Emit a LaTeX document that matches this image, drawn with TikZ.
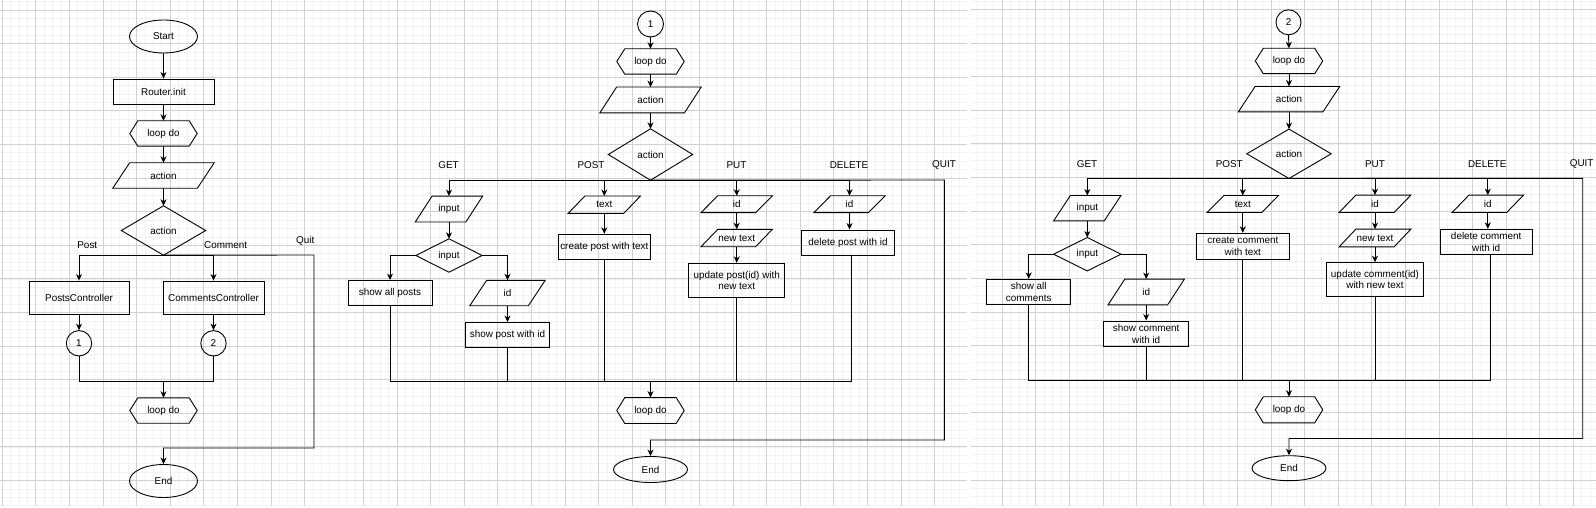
\documentclass[tikz,border=0pt]{standalone}
\usepackage{fontspec}
\setmainfont{Liberation Sans}
\usetikzlibrary{arrows.meta,shapes.geometric}
\newcommand\fsz{\fontsize{9.9pt}{11.6pt}\selectfont}
\newcommand\hexout[1]{\draw[outl] ([xshift=8pt]#1.north west) -- ([xshift=-8pt]#1.north east) -- (#1.east) -- ([xshift=-8pt]#1.south east) -- ([xshift=8pt]#1.south west) -- (#1.west) -- cycle;}
\newcommand\paraout[1]{\draw[outl] ([xshift=16.8pt]#1.north west) -- (#1.north east) -- ([xshift=-16.8pt]#1.south east) -- (#1.south west) -- cycle;}
\newcommand\diaout[1]{\draw[outl] (#1.north) -- (#1.east) -- (#1.south) -- (#1.west) -- cycle;}
\newcommand\gridpanel[4]{%
  \begin{scope}
    \clip (#1,0) rectangle (#2,505);
    \foreach \gi in {-4,...,80} {\draw[gmin] ({#3+8.4*\gi},0) -- ({#3+8.4*\gi},508);}
    \foreach \gi in {-2,...,61} {\draw[gmin] (#1,{#4+8.4*\gi}) -- (#2,{#4+8.4*\gi});}
    \foreach \gi in {-1,...,20} {\draw[gmaj] ({#3+33.6*\gi},0) -- ({#3+33.6*\gi},508);}
    \foreach \gi in {-1,...,15} {\draw[gmaj] (#1,{#4+33.6*\gi}) -- (#2,{#4+33.6*\gi});}
  \end{scope}}
\tikzset{
  base/.style={inner sep=0pt, font=\fsz, align=center, text=black},
  sz/.style 2 args={minimum width=#1pt, minimum height=#2pt},
  rbox/.style={base, draw, line width=0.9pt, rectangle},
  shp/.style={base, rectangle},
  oval/.style={base, draw, line width=0.9pt, ellipse},
  ring/.style={base, draw, line width=0.9pt, circle, minimum size=25.4pt},
  outl/.style={draw, line width=0.9pt},
  lbl/.style={base},
  wire/.style={draw, line width=0.9pt},
  arr/.style={wire, -{Stealth[length=6.5pt, width=6pt, inset=2pt]}},
  gmin/.style={draw=black!5, line width=0.6pt},
  gmaj/.style={draw=black!18, line width=0.8pt},
}
\begin{document}
\begin{tikzpicture}[x=1pt,y=-1pt]
\useasboundingbox (0,0) rectangle (1596,508);
\fill[white] (0,0) rectangle (1596,508);
\gridpanel{0}{335}{2.1}{10}
\gridpanel{335}{967}{329.7}{10}
\gridpanel{971}{1596}{968.5}{9.5}

% ---------------- Panel 1 ----------------
\node[oval, sz={68}{33}] (start) at (163.5,36.5) {Start};
\node[rbox, sz={101}{25}] (router) at (163.5,91.5) {Router.init};
\node[shp, sz={67}{25}] (loop1) at (163.5,133.5) {loop do}; \hexout{loop1}
\node[shp, sz={101}{25}] (act1) at (163.5,175.5) {action}; \paraout{act1}
\node[shp, sz={84}{49}] (dec1) at (163.5,230.5) {action}; \diaout{dec1}
\node[rbox, sz={100}{33}] (posts) at (79,297.5) {PostsController};
\node[rbox, sz={101}{33}] (comments) at (213.5,297.5) {CommentsController};
\node[ring] (c1) at (79,343.3) {1};
\node[ring] (c2) at (213.5,343.3) {2};
\node[shp, sz={67}{25}] (loop2) at (163.5,410.5) {loop do}; \hexout{loop2}
\node[oval, sz={68}{33}] (end1) at (163.5,481) {End};
\node[lbl] (lpost) at (87.3,245) {Post};
\node[lbl] (lcomment) at (225.7,245) {Comment};
\node[lbl] (lquit) at (305.3,240.7) {Quit};
\coordinate (q1a) at (314,255);
\coordinate (q1b) at (314,448);
\coordinate (j1) at (163.5,381);

\draw[arr] (start.south) -- (router.north);
\draw[arr] (router.south) -- (loop1.north);
\draw[arr] (loop1.south) -- (act1.north);
\draw[arr] (act1.south) -- (dec1.north);
\draw[arr] (dec1.south) -| (posts.north);
\draw[arr] (dec1.south) -| (comments.north);
\draw[arr] (dec1.south) -- (q1a) -- (q1b) -| (end1.north);
\draw[arr] (posts.south) -- (c1.north);
\draw[arr] (comments.south) -- (c2.north);
\draw[wire] (c1.south) |- (j1);
\draw[wire] (c2.south) |- (j1);
\draw[arr] (j1) -- (loop2.north);

% ---------------- Panel 2 ----------------
\node[ring, minimum size=26pt] (p2c1) at (650.5,24) {1};
\node[shp, sz={67}{25}] (p2loop) at (650.5,61.5) {loop do}; \hexout{p2loop}
\node[shp, sz={101}{25.5}] (p2act) at (650.5,100) {action}; \paraout{p2act}
\node[shp, sz={84}{51}] (p2dec) at (650.5,154.5) {action}; \diaout{p2dec}
\node[lbl] (p2lget) at (448.5,165) {GET};
\node[lbl] (p2lpost) at (591,165) {POST};
\node[lbl] (p2lput) at (736.5,165) {PUT};
\node[lbl] (p2ldel) at (849,165) {DELETE};
\node[lbl] (p2lquit) at (944,165) {QUIT};
\node[shp, sz={67}{25.5}] (p2in) at (449,209) {input}; \paraout{p2in}
\node[shp, sz={66}{33}] (p2indec) at (449,255.5) {input}; \diaout{p2indec}
\node[rbox, sz={84}{25}] (p2all) at (390,293) {show all posts};
\node[shp, sz={75}{25}] (p2id) at (507.5,293) {id}; \paraout{p2id}
\node[rbox, sz={84}{25}] (p2show) at (507.5,335) {show post with id};
\node[shp, sz={72}{17}] (p2text) at (604.3,204.7) {text}; \paraout{p2text}
\node[rbox, sz={92}{25}] (p2create) at (604.3,246.7) {create post with text};
\node[shp, sz={71}{16.5}] (p2putid) at (736.7,204.2) {id}; \paraout{p2putid}
\node[shp, sz={71}{17}] (p2newtext) at (736.7,238) {new text}; \paraout{p2newtext}
\node[rbox, sz={96}{34}] (p2update) at (736.7,280.3) {update post(id) with\\new text};
\node[shp, sz={71}{16.5}] (p2delid) at (849.5,204.2) {id}; \paraout{p2delid}
\node[rbox, sz={92.6}{25}] (p2delete) at (848,242.5) {delete post with id};
\node[shp, sz={67}{25.5}] (p2loop2) at (650.5,410.5) {loop do}; \hexout{p2loop2}
\node[oval, sz={74}{26}] (p2end) at (650.5,469.5) {End};
\coordinate (p2qa) at (944.3,180);
\coordinate (p2qb) at (944.3,440);
\coordinate (p2j) at (650.5,381);

\draw[arr] (p2c1.south) -- (p2loop.north);
\draw[arr] (p2loop.south) -- (p2act.north);
\draw[arr] (p2act.south) -- (p2dec.north);
\draw[arr] (p2dec.south) -| (p2in.north);
\draw[arr] (p2dec.south) -| (p2text.north);
\draw[arr] (p2dec.south) -| (p2putid.north);
\draw[arr] (p2dec.south) -| (p2delid.north);
\draw[arr] (p2dec.south) -- (p2qa) -- (p2qb) -| (p2end.north);
\draw[arr] (p2in.south) -- (p2indec.north);
\draw[arr] (p2indec.west) -| (p2all.north);
\draw[arr] (p2indec.east) -| (p2id.north);
\draw[arr] (p2id.south) -- (p2show.north);
\draw[arr] (p2text.south) -- (p2create.north);
\draw[arr] (p2putid.south) -- (p2newtext.north);
\draw[arr] (p2newtext.south) -- (p2update.north);
\draw[arr] (p2delid.south) -- ([xshift=1.5pt]p2delete.north);
\draw[wire] (p2all.south) |- (p2j);
\draw[wire] (p2show.south) |- (p2j);
\draw[wire] (p2create.south) |- (p2j);
\draw[wire] (p2update.south) |- (p2j);
\draw[wire] ([xshift=3.5pt]p2delete.south) |- (p2j);
\draw[arr] (p2j) -- (p2loop2.north);

% ---------------- Panel 3 ----------------
\node[ring, minimum size=25pt] (p3c2) at (1288.5,22.3) {2};
\node[shp, sz={67}{25}] (p3loop) at (1289,61) {loop do}; \hexout{p3loop}
\node[shp, sz={101}{25}] (p3act) at (1289,99.2) {action}; \paraout{p3act}
\node[shp, sz={84}{49}] (p3dec) at (1289,153.8) {action}; \diaout{p3dec}
\node[lbl] (p3lget) at (1087,164) {GET};
\node[lbl] (p3lpost) at (1229.3,164) {POST};
\node[lbl] (p3lput) at (1375,164) {PUT};
\node[lbl] (p3ldel) at (1487.3,164) {DELETE};
\node[lbl] (p3lquit) at (1581.7,164) {QUIT};
\node[shp, sz={67}{25}] (p3in) at (1087.3,208.2) {input}; \paraout{p3in}
\node[shp, sz={67}{33}] (p3indec) at (1087.3,254.2) {input}; \diaout{p3indec}
\node[rbox, sz={84}{25.4}] (p3all) at (1028.7,292) {show all\\comments};
\node[shp, sz={76}{25.4}] (p3id) at (1146.2,292) {id}; \paraout{p3id}
\node[rbox, sz={84.7}{25.7}] (p3show) at (1146.2,333.8) {show comment\\with id};
\node[shp, sz={71}{16.6}] (p3text) at (1242.8,204) {text}; \paraout{p3text}
\node[rbox, sz={92.3}{26}] (p3create) at (1242.8,246.3) {create comment\\with text};
\node[shp, sz={71.4}{17}] (p3putid) at (1375,203.8) {id}; \paraout{p3putid}
\node[shp, sz={71.4}{17.4}] (p3newtext) at (1375,238) {new text}; \paraout{p3newtext}
\node[rbox, sz={96.3}{33.7}] (p3update) at (1375,279.5) {update comment(id)\\with new text};
\node[shp, sz={71}{17}] (p3delid) at (1487.8,203.8) {id}; \paraout{p3delid}
\node[rbox, sz={92.3}{25}] (p3delete) at (1486.2,241.8) {delete comment\\with id};
\node[shp, sz={67}{25.7}] (p3loop2) at (1289,409.8) {loop do}; \hexout{p3loop2}
\node[oval, sz={74}{25}] (p3end) at (1289,468.2) {End};
\coordinate (p3qa) at (1582.7,178.3);
\coordinate (p3qb) at (1582.7,438.5);
\coordinate (p3j) at (1289,380);

\draw[arr] (p3c2.south) -- (p3loop.north);
\draw[arr] (p3loop.south) -- (p3act.north);
\draw[arr] (p3act.south) -- (p3dec.north);
\draw[arr] (p3dec.south) -| (p3in.north);
\draw[arr] (p3dec.south) -| (p3text.north);
\draw[arr] (p3dec.south) -| (p3putid.north);
\draw[arr] (p3dec.south) -| (p3delid.north);
\draw[arr] (p3dec.south) -- (p3qa) -- (p3qb) -| (p3end.north);
\draw[arr] (p3in.south) -- (p3indec.north);
\draw[arr] (p3indec.west) -| (p3all.north);
\draw[arr] (p3indec.east) -| (p3id.north);
\draw[arr] (p3id.south) -- (p3show.north);
\draw[arr] (p3text.south) -- (p3create.north);
\draw[arr] (p3putid.south) -- (p3newtext.north);
\draw[arr] (p3newtext.south) -- (p3update.north);
\draw[arr] (p3delid.south) -- ([xshift=1.6pt]p3delete.north);
\draw[wire] (p3all.south) |- (p3j);
\draw[wire] (p3show.south) |- (p3j);
\draw[wire] (p3create.south) |- (p3j);
\draw[wire] (p3update.south) |- (p3j);
\draw[wire] ([xshift=4.1pt]p3delete.south) |- (p3j);
\draw[arr] (p3j) -- (p3loop2.north);
\end{tikzpicture}
\end{document}
